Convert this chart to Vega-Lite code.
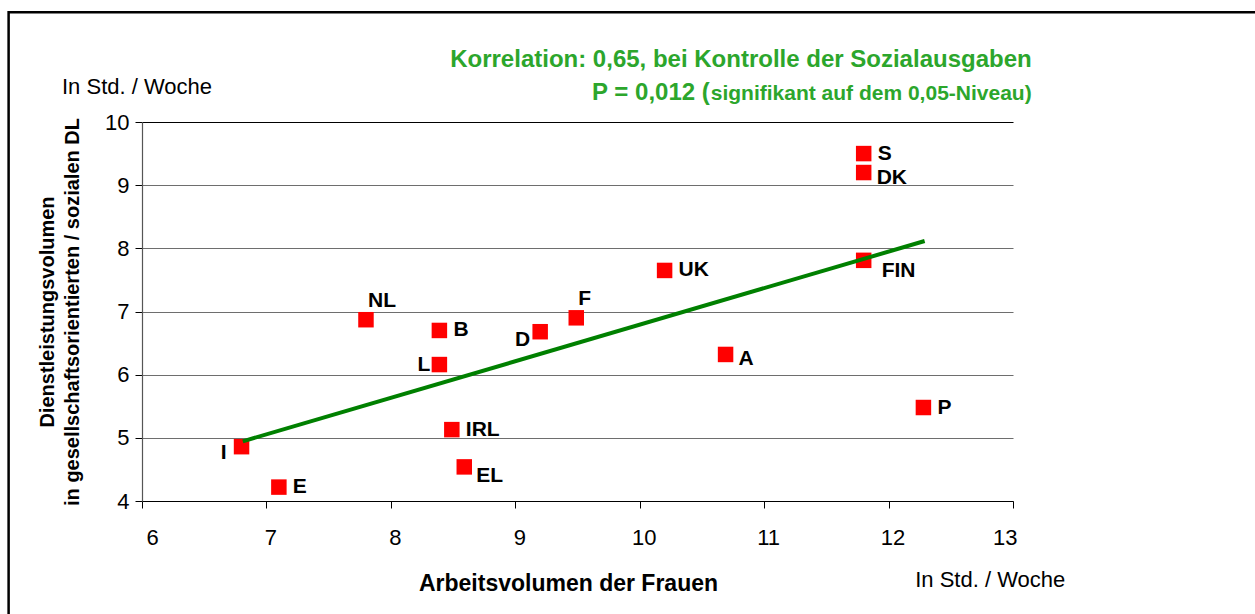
{
  "$schema": "https://vega.github.io/schema/vega-lite/v6.json",
  "width": 871,
  "height": 379,
  "autosize": "none",
  "padding": {"left": 142, "top": 122, "right": 242, "bottom": 113},
  "background": "white",
  "config": {
    "view": {"stroke": null},
    "font": "Liberation Sans",
    "text": {"font": "Liberation Sans"},
    "axisX": {
      "format": "d",
      "grid": false,
      "domainColor": "black",
      "domainWidth": 1.2,
      "tickColor": "black",
      "tickSize": 7,
      "labelFontSize": 22,
      "labelColor": "black",
      "labelPadding": 19,
      "labelOffset": 4,
      "labelFont": "Liberation Sans",
      "titleFont": "Liberation Sans",
      "titleFontSize": 23,
      "titleFontWeight": "bold",
      "titleColor": "black",
      "titlePadding": 24,
      "titleX": 426
    },
    "axisY": {
      "format": "d",
      "grid": true,
      "gridWidth": 1.2,
      "domainColor": "#555555",
      "domainWidth": 1.2,
      "tickColor": "black",
      "tickSize": 7,
      "labelFontSize": 22,
      "labelColor": "black",
      "labelPadding": 6,
      "labelFont": "Liberation Sans",
      "titleFont": "Liberation Sans",
      "titleFontSize": 20,
      "titleFontWeight": "bold",
      "titleColor": "black",
      "titleLineHeight": 25,
      "titlePadding": 22
    }
  },
  "datasets": {
    "countries": [
      {"land": "S", "arbeit": 11.8, "dienst": 9.5},
      {"land": "DK", "arbeit": 11.8, "dienst": 9.2},
      {"land": "FIN", "arbeit": 11.8, "dienst": 7.81},
      {"land": "UK", "arbeit": 10.2, "dienst": 7.65},
      {"land": "NL", "arbeit": 7.8, "dienst": 6.87},
      {"land": "B", "arbeit": 8.39, "dienst": 6.7},
      {"land": "F", "arbeit": 9.49, "dienst": 6.9},
      {"land": "D", "arbeit": 9.2, "dienst": 6.68},
      {"land": "L", "arbeit": 8.39, "dienst": 6.16},
      {"land": "A", "arbeit": 10.69, "dienst": 6.32},
      {"land": "P", "arbeit": 12.28, "dienst": 5.48},
      {"land": "IRL", "arbeit": 8.49, "dienst": 5.13},
      {"land": "EL", "arbeit": 8.59, "dienst": 4.54},
      {"land": "I", "arbeit": 6.8, "dienst": 4.86},
      {"land": "E", "arbeit": 7.1, "dienst": 4.22}
    ],
    "trend": [
      {"arbeit": 6.81, "dienst": 4.945},
      {"arbeit": 12.29, "dienst": 8.116}
    ],
    "one": [{}]
  },
  "layer": [
    {
      "data": {"name": "countries"},
      "mark": {"type": "square", "color": "#ff0000", "opacity": 1, "size": 240},
      "encoding": {
        "x": {
          "field": "arbeit", "type": "quantitative",
          "scale": {"domain": [6, 13], "nice": false, "zero": false},
          "axis": {"title": "Arbeitsvolumen der Frauen", "values": [6, 7, 8, 9, 10, 11, 12, 13]}
        },
        "y": {
          "field": "dienst", "type": "quantitative",
          "scale": {"domain": [4, 10], "nice": false, "zero": false},
          "axis": {
            "title": ["Dienstleistungsvolumen", "in gesellschaftsorientierten / sozialen DL"],
            "values": [4, 5, 6, 7, 8, 9, 10],
            "gridColor": {"condition": {"test": "datum.value === 10", "value": "black"}, "value": "#6e6e6e"}
          }
        }
      }
    },
    {
      "data": {"name": "one"},
      "mark": {"type": "rect", "fill": null, "stroke": "black", "strokeWidth": 2.5, "clip": false},
      "encoding": {
        "x": {"datum": 4.928, "type": "quantitative"},
        "x2": {"datum": 16},
        "y": {"datum": 11.737, "type": "quantitative"},
        "y2": {"datum": 1.5}
      }
    },
    {
      "data": {"name": "trend"},
      "mark": {"type": "line", "color": "#008000", "strokeWidth": 4},
      "encoding": {
        "x": {"field": "arbeit", "type": "quantitative"},
        "y": {"field": "dienst", "type": "quantitative"}
      }
    },
    {
      "data": {"name": "countries"},
      "transform": [{"filter": {"field": "land", "oneOf": ["S", "UK", "B", "P", "IRL", "E"]}}],
      "mark": {"type": "text", "align": "left", "baseline": "middle", "dx": 14, "dy": 0, "fontSize": 21, "fontWeight": "bold", "color": "black"},
      "encoding": {
        "x": {"field": "arbeit", "type": "quantitative"},
        "y": {"field": "dienst", "type": "quantitative"},
        "text": {"field": "land"}
      }
    },
    {
      "data": {"name": "countries"},
      "transform": [{"filter": {"field": "land", "oneOf": ["DK", "A"]}}],
      "mark": {"type": "text", "align": "left", "baseline": "middle", "dx": 13, "dy": 5, "fontSize": 21, "fontWeight": "bold", "color": "black"},
      "encoding": {
        "x": {"field": "arbeit", "type": "quantitative"},
        "y": {"field": "dienst", "type": "quantitative"},
        "text": {"field": "land"}
      }
    },
    {
      "data": {"name": "countries"},
      "transform": [{"filter": {"field": "land", "oneOf": ["EL"]}}],
      "mark": {"type": "text", "align": "left", "baseline": "middle", "dx": 12, "dy": 9, "fontSize": 21, "fontWeight": "bold", "color": "black"},
      "encoding": {
        "x": {"field": "arbeit", "type": "quantitative"},
        "y": {"field": "dienst", "type": "quantitative"},
        "text": {"field": "land"}
      }
    },
    {
      "data": {"name": "countries"},
      "transform": [{"filter": {"field": "land", "oneOf": ["FIN"]}}],
      "mark": {"type": "text", "align": "left", "baseline": "middle", "dx": 18, "dy": 11, "fontSize": 21, "fontWeight": "bold", "color": "black"},
      "encoding": {
        "x": {"field": "arbeit", "type": "quantitative"},
        "y": {"field": "dienst", "type": "quantitative"},
        "text": {"field": "land"}
      }
    },
    {
      "data": {"name": "countries"},
      "transform": [{"filter": {"field": "land", "oneOf": ["NL", "F"]}}],
      "mark": {"type": "text", "align": "left", "baseline": "middle", "dx": 2, "dy": -19, "fontSize": 21, "fontWeight": "bold", "color": "black"},
      "encoding": {
        "x": {"field": "arbeit", "type": "quantitative"},
        "y": {"field": "dienst", "type": "quantitative"},
        "text": {"field": "land"}
      }
    },
    {
      "data": {"name": "countries"},
      "transform": [{"filter": {"field": "land", "oneOf": ["L"]}}],
      "mark": {"type": "text", "align": "right", "baseline": "middle", "dx": -9, "dy": 0, "fontSize": 21, "fontWeight": "bold", "color": "black"},
      "encoding": {
        "x": {"field": "arbeit", "type": "quantitative"},
        "y": {"field": "dienst", "type": "quantitative"},
        "text": {"field": "land"}
      }
    },
    {
      "data": {"name": "countries"},
      "transform": [{"filter": {"field": "land", "oneOf": ["D"]}}],
      "mark": {"type": "text", "align": "right", "baseline": "middle", "dx": -10, "dy": 8, "fontSize": 21, "fontWeight": "bold", "color": "black"},
      "encoding": {
        "x": {"field": "arbeit", "type": "quantitative"},
        "y": {"field": "dienst", "type": "quantitative"},
        "text": {"field": "land"}
      }
    },
    {
      "data": {"name": "countries"},
      "transform": [{"filter": {"field": "land", "oneOf": ["I"]}}],
      "mark": {"type": "text", "align": "right", "baseline": "middle", "dx": -15, "dy": 6, "fontSize": 21, "fontWeight": "bold", "color": "black"},
      "encoding": {
        "x": {"field": "arbeit", "type": "quantitative"},
        "y": {"field": "dienst", "type": "quantitative"},
        "text": {"field": "land"}
      }
    },
    {
      "data": {"name": "one"},
      "mark": {"type": "text", "align": "right", "baseline": "middle", "fontSize": 24, "fontWeight": "bold", "color": "#2ca62c", "clip": false},
      "encoding": {
        "x": {"datum": 13.15, "type": "quantitative"},
        "y": {"datum": 10.977, "type": "quantitative"},
        "text": {"value": "Korrelation: 0,65, bei Kontrolle der Sozialausgaben"}
      }
    },
    {
      "data": {"name": "one"},
      "mark": {"type": "text", "align": "right", "baseline": "alphabetic", "fontSize": 24, "fontWeight": "bold", "color": "#2ca62c", "clip": false},
      "encoding": {
        "x": {"datum": 10.563, "type": "quantitative"},
        "y": {"datum": 10.35, "type": "quantitative"},
        "text": {"value": "P = 0,012 ("}
      }
    },
    {
      "data": {"name": "one"},
      "mark": {"type": "text", "align": "right", "baseline": "alphabetic", "fontSize": 21, "fontWeight": "bold", "color": "#2ca62c", "clip": false},
      "encoding": {
        "x": {"datum": 13.15, "type": "quantitative"},
        "y": {"datum": 10.35, "type": "quantitative"},
        "text": {"value": "signifikant auf dem 0,05-Niveau)"}
      }
    },
    {
      "data": {"name": "one"},
      "mark": {"type": "text", "align": "left", "baseline": "middle", "fontSize": 22, "color": "black", "clip": false},
      "encoding": {
        "x": {"datum": 5.357, "type": "quantitative"},
        "y": {"datum": 10.555, "type": "quantitative"},
        "text": {"value": "In Std. / Woche"}
      }
    },
    {
      "data": {"name": "one"},
      "mark": {"type": "text", "align": "left", "baseline": "middle", "fontSize": 22, "color": "black", "clip": false},
      "encoding": {
        "x": {"datum": 12.214, "type": "quantitative"},
        "y": {"datum": 2.743, "type": "quantitative"},
        "text": {"value": "In Std. / Woche"}
      }
    }
  ]
}
